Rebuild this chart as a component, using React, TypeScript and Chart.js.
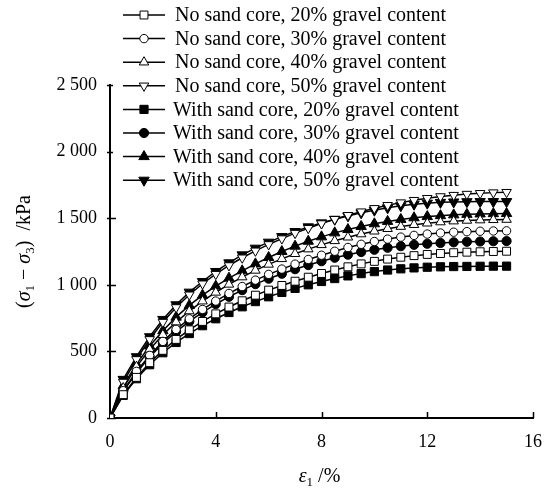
import React, { useEffect, useRef } from "react";
import { Chart, registerables } from "chart.js";
import { drawPoint } from "chart.js/helpers";

Chart.register(...registerables);

// axial strain ε1 (%)
const strain = [0, 0.5, 1, 1.5, 2, 2.5, 3, 3.5, 4, 4.5, 5, 5.5, 6, 6.5, 7, 7.5, 8, 8.5, 9, 9.5, 10, 10.5, 11, 11.5, 12, 12.5, 13, 13.5, 14, 14.5, 15];

// deviator stress (σ1−σ3), kPa
const noSand20 = [0, 175, 305, 415, 508, 590, 662, 725, 782, 833, 880, 922, 960, 995, 1027, 1057, 1085, 1111, 1135, 1157, 1176, 1193, 1207, 1219, 1228, 1235, 1241, 1245, 1248, 1250, 1252];
const noSand30 = [0, 205, 350, 470, 575, 665, 745, 815, 878, 935, 987, 1035, 1078, 1118, 1155, 1190, 1222, 1252, 1280, 1304, 1325, 1343, 1358, 1371, 1381, 1389, 1395, 1399, 1402, 1404, 1405];
const noSand40 = [0, 225, 385, 515, 625, 720, 803, 877, 943, 1003, 1058, 1108, 1153, 1195, 1233, 1268, 1300, 1330, 1357, 1381, 1402, 1421, 1437, 1451, 1462, 1471, 1478, 1483, 1486, 1488, 1490];
const noSand50 = [0, 270, 440, 590, 720, 830, 925, 1008, 1080, 1145, 1203, 1255, 1303, 1347, 1388, 1425, 1460, 1492, 1522, 1549, 1574, 1597, 1617, 1635, 1650, 1663, 1673, 1681, 1687, 1692, 1695];
const withSand20 = [0, 170, 295, 400, 490, 567, 634, 693, 745, 792, 835, 874, 910, 943, 973, 1000, 1025, 1047, 1067, 1084, 1099, 1111, 1120, 1127, 1132, 1135, 1137, 1138, 1139, 1140, 1140];
const withSand30 = [0, 200, 340, 458, 560, 648, 725, 793, 855, 910, 960, 1005, 1046, 1083, 1117, 1148, 1177, 1203, 1226, 1246, 1263, 1278, 1290, 1300, 1308, 1314, 1319, 1323, 1325, 1327, 1328];
const withSand40 = [0, 242, 405, 540, 655, 757, 845, 922, 990, 1050, 1105, 1157, 1205, 1250, 1290, 1327, 1360, 1390, 1415, 1438, 1458, 1476, 1491, 1503, 1512, 1519, 1525, 1529, 1532, 1534, 1535];
const withSand50 = [0, 290, 460, 610, 740, 850, 945, 1025, 1100, 1165, 1225, 1275, 1320, 1362, 1400, 1435, 1465, 1492, 1517, 1540, 1560, 1578, 1593, 1605, 1613, 1619, 1622, 1624, 1625, 1625, 1625];

const seriesLabels = [
  "No sand core, 20% gravel content",
  "No sand core, 30% gravel content",
  "No sand core, 40% gravel content",
  "No sand core, 50% gravel content",
  "With sand core, 20% gravel content",
  "With sand core, 30% gravel content",
  "With sand core, 40% gravel content",
  "With sand core, 50% gravel content",
];
const seriesValues = [noSand20, noSand30, noSand40, noSand50, withSand20, withSand30, withSand40, withSand50];

const xTicks = [0, 4, 8, 12, 16];
const yTicks = [0, 500, 1000, 1500, 2000, 2500];

const FONT = "'Liberation Serif', 'Times New Roman', serif";

type Marker = { style: string; rotation: number; radius: number; filled: boolean };
const markers: Marker[] = [
  { style: "rect", rotation: 0, radius: 5.6, filled: false },
  { style: "circle", rotation: 0, radius: 4.2, filled: false },
  { style: "triangle", rotation: 0, radius: 5.5, filled: false },
  { style: "triangle", rotation: 180, radius: 5.5, filled: false },
  { style: "rect", rotation: 0, radius: 5.8, filled: true },
  { style: "circle", rotation: 0, radius: 4.6, filled: true },
  { style: "triangle", rotation: 0, radius: 6, filled: true },
  { style: "triangle", rotation: 180, radius: 6, filled: true },
];

function fmt(v: number): string {
  if (v >= 1000) {
    const th = Math.floor(v / 1000);
    const rest = String(v % 1000).padStart(3, "0");
    return `${th} ${rest}`;
  }
  return String(v);
}

const decorPlugin = {
  id: "decor",
  beforeDatasetsDraw(chart: any) {
    const ctx = chart.ctx;
    const xs = chart.scales.x;
    const ys = chart.scales.y;
    const area = chart.chartArea;
    ctx.save();
    ctx.strokeStyle = "#000";
    ctx.lineWidth = 1.5;
    ctx.beginPath();
    for (const t of xTicks) {
      const px = Math.round(xs.getPixelForValue(t)) + 0.5;
      ctx.moveTo(px, area.bottom);
      ctx.lineTo(px, area.bottom - 6);
    }
    for (const t of yTicks) {
      const py = Math.round(ys.getPixelForValue(t)) + 0.5;
      ctx.moveTo(area.left - 3, py);
      ctx.lineTo(area.left + 6, py);
    }
    ctx.stroke();
    ctx.restore();
  },
  afterDatasetsDraw(chart: any) {
    const ctx = chart.ctx;
    ctx.save();
    // legend
    ctx.fillStyle = "#fff";
    ctx.fillRect(113, 2, 355, 188);
    const rowY0 = 15;
    const rowStep = 23.6;
    ctx.font = `20px ${FONT}`;
    ctx.textBaseline = "middle";
    ctx.textAlign = "left";
    seriesLabels.forEach((label, i) => {
      const y = rowY0 + i * rowStep;
      const m = markers[i];
      ctx.strokeStyle = "#000";
      ctx.lineWidth = 1.5;
      ctx.beginPath();
      ctx.moveTo(123, y);
      ctx.lineTo(165, y);
      ctx.stroke();
      ctx.fillStyle = m.filled ? "#000" : "#fff";
      ctx.strokeStyle = "#000";
      ctx.lineWidth = 1;
      drawPoint(ctx, { pointStyle: m.style as any, rotation: m.rotation, radius: m.radius, borderWidth: 1 } as any, 144, y);
      ctx.fillStyle = "#000";
      ctx.fillText(label, i < 4 ? 175 : 173, y + 1);
    });

    // axis titles
    const area = chart.chartArea;
    const drawRuns = (runs: { t: string; italic?: boolean; sub?: boolean }[], cx: number, cy: number, rot: number) => {
      ctx.save();
      ctx.translate(cx, cy);
      ctx.rotate(rot);
      ctx.textBaseline = "alphabetic";
      ctx.textAlign = "left";
      const fontFor = (r: any) => `${r.italic ? "italic " : ""}${r.sub ? 13 : 20}px ${FONT}`;
      let total = 0;
      for (const r of runs) {
        ctx.font = fontFor(r);
        total += ctx.measureText(r.t).width;
      }
      let x = -total / 2;
      for (const r of runs) {
        ctx.font = fontFor(r);
        ctx.fillStyle = "#000";
        ctx.fillText(r.t, x, r.sub ? 10 : 6);
        x += ctx.measureText(r.t).width;
      }
      ctx.restore();
    };
    drawRuns(
      [{ t: "ε", italic: true }, { t: "1", sub: true }, { t: " /%" }],
      (area.left + area.right) / 2 - 2,
      476,
      0
    );
    drawRuns(
      [
        { t: "(" },
        { t: "σ", italic: true },
        { t: "1", sub: true },
        { t: " − " },
        { t: "σ", italic: true },
        { t: "3", sub: true },
        { t: ")  /kPa" },
      ],
      24,
      (area.top + area.bottom) / 2,
      -Math.PI / 2
    );
    ctx.restore();
  },
};

export default function App() {
  const ref = useRef<HTMLCanvasElement | null>(null);
  useEffect(() => {
    if (!ref.current) return;
    const datasets = seriesValues.map((vals, i) => {
      const m = markers[i];
      return {
        label: seriesLabels[i],
        data: vals.map((v, k) => ({ x: strain[k], y: v })),
        borderColor: "#000",
        borderWidth: 1.5,
        backgroundColor: m.filled ? "#000" : "#fff",
        pointStyle: m.style as any,
        pointRotation: m.rotation,
        pointRadius: m.radius,
        pointBorderWidth: 1,
        pointBorderColor: "#000",
        pointBackgroundColor: m.filled ? "#000" : "#fff",
        tension: 0,
        fill: false,
      };
    });
    const chart = new Chart(ref.current, {
      type: "line",
      data: { datasets },
      options: {
        animation: false,
        responsive: false,
        devicePixelRatio: 1,
        layout: { padding: { top: 85, right: 16, left: 0, bottom: 0 } },
        plugins: { legend: { display: false }, tooltip: { enabled: false } },
        scales: {
          x: {
            type: "linear",
            min: 0,
            max: 16,
            afterFit: (s: any) => {
              s.height = 70;
            },
            afterBuildTicks: (s: any) => {
              s.ticks = xTicks.map((v) => ({ value: v }));
            },
            ticks: { color: "#000", font: { family: FONT, size: 18 }, padding: 5, maxRotation: 0 },
            grid: { display: false },
            border: { display: true, color: "#000", width: 2 },
          },
          y: {
            type: "linear",
            min: 0,
            max: 2500,
            afterFit: (s: any) => {
              s.width = 110;
            },
            afterBuildTicks: (s: any) => {
              s.ticks = yTicks.map((v) => ({ value: v }));
            },
            ticks: { color: "#000", font: { family: FONT, size: 18 }, padding: 5, callback: (v: any) => fmt(Number(v)) },
            grid: { display: false },
            border: { display: true, color: "#000", width: 2 },
          },
        },
      },
      plugins: [decorPlugin],
    });
    return () => chart.destroy();
  }, []);
  return (
    <canvas
      ref={ref}
      width={549}
      height={488}
      style={{ position: "absolute", left: 0, top: 0, display: "block", background: "#fff" }}
    />
  );
}
